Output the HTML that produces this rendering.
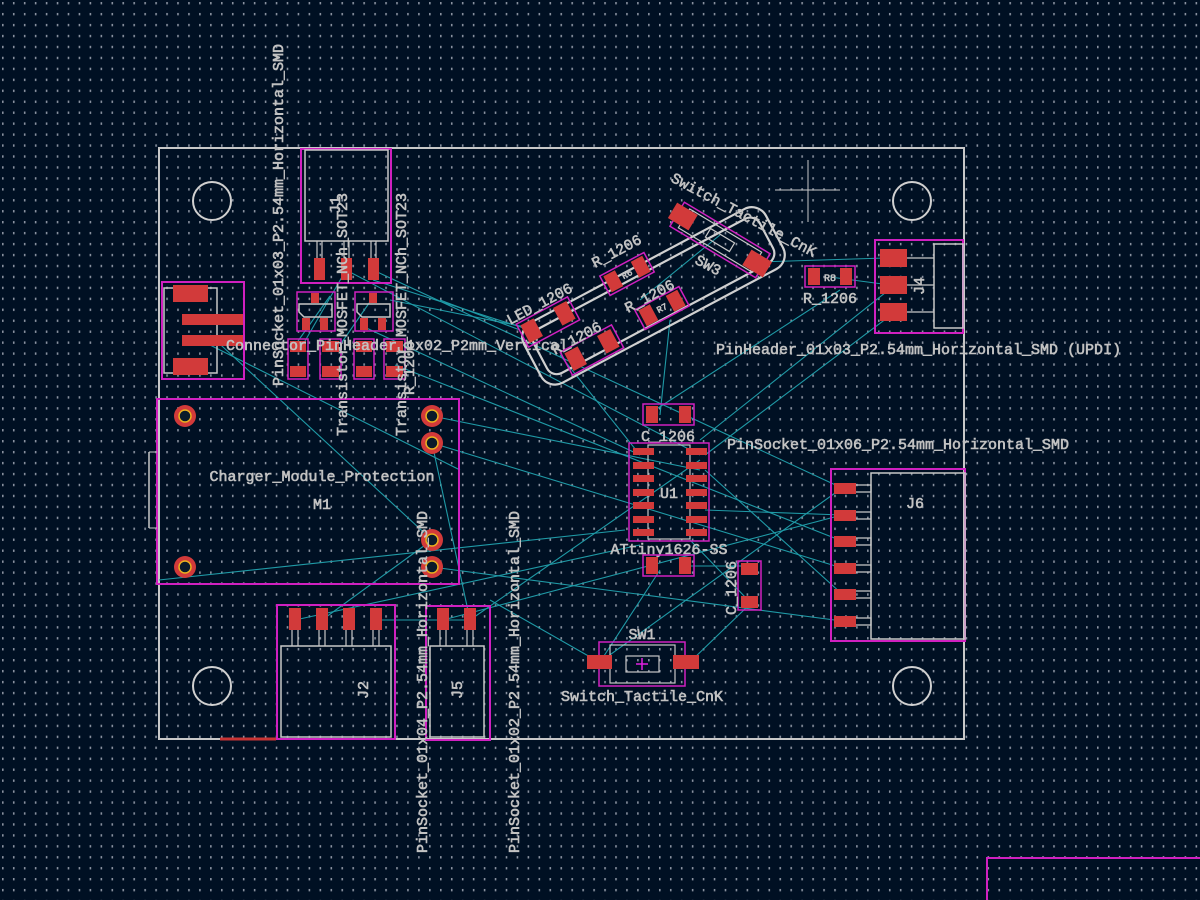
<!DOCTYPE html>
<html><head><meta charset="utf-8"><style>
html,body{margin:0;padding:0;background:#001023;}
svg{display:block}
text{font-family:"Liberation Mono","DejaVu Sans Mono",monospace;fill:#c2c2c2;stroke:#c2c2c2;stroke-width:0.6;}
</style></head><body>
<svg width="1200" height="900" viewBox="0 0 1200 900" xmlns="http://www.w3.org/2000/svg">
<defs>
<pattern id="g" x="2" y="2" width="10.95" height="10.95" patternUnits="userSpaceOnUse">
<rect x="0" y="0" width="1.6" height="2.4" fill="#8a92a0"/>
</pattern>
</defs>
<rect width="1200" height="900" fill="#001023"/>
<rect width="1200" height="900" fill="url(#g)"/>

<!-- board outline -->
<rect x="159" y="148" width="805" height="591" fill="none" stroke="#c8c8c8" stroke-width="2"/>
<line x1="220" y1="739" x2="276" y2="739" stroke="#c83434" stroke-width="3"/>
<g fill="none" stroke="#d0d0d0" stroke-width="2">
<circle cx="212" cy="201" r="19"/><circle cx="912" cy="201" r="19"/>
<circle cx="212" cy="686" r="19"/><circle cx="912" cy="686" r="19"/>
</g>
<g stroke="#c8c8c8" stroke-width="1">
<line x1="775" y1="190" x2="840" y2="190"/><line x1="808" y1="160" x2="808" y2="222"/>
</g>
<path d="M987 900 V858 H1200" fill="none" stroke="#d020c0" stroke-width="2"/>

<!-- ratsnest -->
<g stroke="#1f9aa6" stroke-width="1.1" fill="none">
<line x1="346" y1="270" x2="700" y2="455"/>
<line x1="373" y1="270" x2="842" y2="488"/>
<line x1="373" y1="280" x2="530" y2="330"/>
<line x1="210" y1="335" x2="432" y2="540"/>
<line x1="210" y1="345" x2="460" y2="470"/>
<line x1="330" y1="296" x2="298" y2="341"/>
<line x1="346" y1="270" x2="305" y2="341"/>
<line x1="374" y1="296" x2="340" y2="345"/>
<line x1="360" y1="325" x2="640" y2="455"/>
<line x1="395" y1="365" x2="842" y2="541"/>
<line x1="432" y1="416" x2="700" y2="470"/>
<line x1="432" y1="443" x2="842" y2="568"/>
<line x1="432" y1="443" x2="470" y2="620"/>
<line x1="432" y1="567" x2="842" y2="621"/>
<line x1="432" y1="540" x2="322" y2="620"/>
<line x1="295" y1="620" x2="640" y2="545"/>
<line x1="376" y1="620" x2="470" y2="620"/>
<line x1="443" y1="620" x2="842" y2="515"/>
<line x1="470" y1="620" x2="700" y2="460"/>
<line x1="159" y1="580" x2="625" y2="530"/>
<line x1="490" y1="600" x2="599" y2="662"/>
<line x1="600" y1="662" x2="660" y2="570"/>
<line x1="690" y1="662" x2="748" y2="606"/>
<line x1="660" y1="415" x2="670" y2="320"/>
<line x1="655" y1="410" x2="840" y2="290"/>
<line x1="700" y1="440" x2="895" y2="285"/>
<line x1="758" y1="262" x2="885" y2="258"/>
<line x1="830" y1="277" x2="890" y2="285"/>
<line x1="705" y1="470" x2="842" y2="594"/>
<line x1="705" y1="510" x2="842" y2="515"/>
<line x1="690" y1="540" x2="748" y2="600"/>
<line x1="705" y1="455" x2="895" y2="312"/>
<line x1="680" y1="566" x2="748" y2="566"/>
<line x1="600" y1="662" x2="842" y2="488"/>
<line x1="520" y1="330" x2="440" y2="300"/>
<line x1="640" y1="300" x2="720" y2="235"/>
<line x1="560" y1="355" x2="640" y2="455"/>
<line x1="540" y1="330" x2="390" y2="300"/>
</g>

<!-- J1 -->
<rect x="301" y="149" width="90" height="134" fill="none" stroke="#d020c0" stroke-width="2"/>
<rect x="305" y="150" width="83" height="91" fill="none" stroke="#c8c8c8" stroke-width="1.5"/>
<g stroke="#c8c8c8" stroke-width="1.2" fill="none">
<path d="M317 241v17M322 241v17M344 241v17M349 241v17M371 241v17M376 241v17"/></g>
<g fill="#d23a3a"><rect x="314" y="258" width="11" height="22"/><rect x="341" y="258" width="11" height="22"/><rect x="368" y="258" width="11" height="22"/></g>

<!-- Q1 Q2 -->
<g fill="none" stroke-width="1.5">
<rect x="297" y="292" width="38" height="39" stroke="#d020c0"/>
<rect x="355" y="292" width="38" height="39" stroke="#d020c0"/>
<path d="M299 304h33v13h-28l-5-5z" stroke="#c8c8c8"/>
<path d="M357 304h33v13h-28l-5-5z" stroke="#c8c8c8"/>
</g>
<g fill="#d23a3a">
<rect x="311" y="293" width="8" height="10"/><rect x="302" y="318" width="8" height="12"/><rect x="320" y="318" width="8" height="12"/>
<rect x="369" y="293" width="8" height="10"/><rect x="360" y="318" width="8" height="12"/><rect x="378" y="318" width="8" height="12"/>
</g>

<!-- R2-R5 -->
<g>
<rect x="288" y="339" width="20" height="40" fill="none" stroke="#d020c0" stroke-width="1.5"/>
<rect x="290" y="341" width="16" height="11" fill="#d23a3a"/><rect x="290" y="366" width="16" height="11" fill="#d23a3a"/>
<rect x="320" y="339" width="21" height="40" fill="none" stroke="#d020c0" stroke-width="1.5"/>
<rect x="322" y="341" width="17" height="11" fill="#d23a3a"/><rect x="322" y="366" width="17" height="11" fill="#d23a3a"/>
<rect x="354" y="339" width="20" height="40" fill="none" stroke="#d020c0" stroke-width="1.5"/>
<rect x="356" y="341" width="16" height="11" fill="#d23a3a"/><rect x="356" y="366" width="16" height="11" fill="#d23a3a"/>
<rect x="384" y="339" width="21" height="40" fill="none" stroke="#d020c0" stroke-width="1.5"/>
<rect x="386" y="341" width="17" height="11" fill="#d23a3a"/><rect x="386" y="366" width="17" height="11" fill="#d23a3a"/>
</g>

<!-- left connector -->
<rect x="162" y="282" width="82" height="97" fill="none" stroke="#d020c0" stroke-width="2"/>
<rect x="164" y="288" width="53" height="85" fill="none" stroke="#c8c8c8" stroke-width="1.5"/>
<g fill="#d23a3a">
<rect x="173" y="285" width="35" height="17"/><rect x="182" y="314" width="61" height="11"/>
<rect x="182" y="335" width="61" height="11"/><rect x="173" y="358" width="35" height="17"/>
</g>

<!-- M1 -->
<rect x="157" y="399" width="302" height="185" fill="none" stroke="#d020c0" stroke-width="2"/>
<line x1="149" y1="452" x2="149" y2="528" stroke="#c8c8c8" stroke-width="1.5"/>
<line x1="149" y1="452" x2="157" y2="452" stroke="#c8c8c8"/><line x1="149" y1="528" x2="157" y2="528" stroke="#c8c8c8"/>
<g>
<g transform="translate(185,416)"><circle r="11" fill="#d23a3a"/><circle r="6" fill="#0a1a2a" stroke="#e8b020" stroke-width="1.5"/></g>
<g transform="translate(432,416)"><circle r="11" fill="#d23a3a"/><circle r="6" fill="#0a1a2a" stroke="#e8b020" stroke-width="1.5"/></g>
<g transform="translate(432,443)"><circle r="11" fill="#d23a3a"/><circle r="6" fill="#0a1a2a" stroke="#e8b020" stroke-width="1.5"/></g>
<g transform="translate(185,567)"><circle r="11" fill="#d23a3a"/><circle r="6" fill="#0a1a2a" stroke="#e8b020" stroke-width="1.5"/></g>
<g transform="translate(432,540)"><circle r="11" fill="#d23a3a"/><circle r="6" fill="#0a1a2a" stroke="#e8b020" stroke-width="1.5"/></g>
<g transform="translate(432,567)"><circle r="11" fill="#d23a3a"/><circle r="6" fill="#0a1a2a" stroke="#e8b020" stroke-width="1.5"/></g>
</g>
<text x="322" y="481" font-size="15" text-anchor="middle">Charger_Module_Protection</text>
<text x="322" y="509" font-size="15" text-anchor="middle">M1</text>

<!-- J2 J5 -->
<rect x="277" y="605" width="118" height="134" fill="none" stroke="#d020c0" stroke-width="2"/>
<rect x="281" y="646" width="110" height="91" fill="none" stroke="#c8c8c8" stroke-width="1.5"/>
<rect x="426" y="606" width="64" height="134" fill="none" stroke="#d020c0" stroke-width="2"/>
<rect x="430" y="646" width="54" height="91" fill="none" stroke="#c8c8c8" stroke-width="1.5"/>
<g stroke="#c8c8c8" stroke-width="1.2"><path d="M292 630v16M298 630v16M319 630v16M325 630v16M346 630v16M352 630v16M373 630v16M379 630v16M440 630v16M446 630v16M467 630v16M473 630v16"/></g>
<g fill="#d23a3a">
<rect x="289" y="608" width="12" height="22"/><rect x="316" y="608" width="12" height="22"/><rect x="343" y="608" width="12" height="22"/><rect x="370" y="608" width="12" height="22"/>
<rect x="437" y="608" width="12" height="22"/><rect x="464" y="608" width="12" height="22"/>
</g>
<text font-size="15" transform="translate(368,690) rotate(-90)" text-anchor="middle">J2</text>
<text font-size="15" transform="translate(462,690) rotate(-90)" text-anchor="middle">J5</text>

<!-- vertical labels -->
<text font-size="15" transform="translate(427,853) rotate(-90)">PinSocket_01x04_P2.54mm_Horizontal_SMD</text>
<text font-size="15" transform="translate(519,853) rotate(-90)">PinSocket_01x02_P2.54mm_Horizontal_SMD</text>
<text font-size="15" transform="translate(283,386) rotate(-90)">PinSocket_01x03_P2.54mm_Horizontal_SMD</text>
<text font-size="15" transform="translate(347,436) rotate(-90)">Transistor_MOSFET_NCh_SOT23</text>
<text font-size="15" transform="translate(406,436) rotate(-90)">Transistor_MOSFET_NCh_SOT23</text>
<text font-size="15" transform="translate(340,205) rotate(-90)" text-anchor="middle">J1</text>
<text font-size="15" transform="translate(414,395) rotate(-90)">R_1206</text>
<text font-size="15" x="226" y="350">Connector_PinHeader_1x02_P2mm_Vertical</text>

<!-- rotated LED/R group -->
<g transform="rotate(-28 650 300)" fill="none" stroke="#d0d0d0" stroke-width="2.2">
<rect x="518" y="264" width="274" height="68" rx="16"/>
<rect x="527" y="273" width="256" height="50" rx="11"/>
</g>
<g transform="translate(627,274) rotate(-28)"><rect x="-25" y="-11" width="50" height="22" fill="none" stroke="#d020c0" stroke-width="1.5"/><rect x="-22" y="-9" width="13" height="18" fill="#d23a3a"/><rect x="9" y="-9" width="13" height="18" fill="#d23a3a"/><text font-size="9" x="0" y="3" text-anchor="middle">R6</text></g>
<g transform="translate(662,308) rotate(-28)"><rect x="-25" y="-11" width="50" height="22" fill="none" stroke="#d020c0" stroke-width="1.5"/><rect x="-22" y="-9" width="13" height="18" fill="#d23a3a"/><rect x="9" y="-9" width="13" height="18" fill="#d23a3a"/><text font-size="9" x="0" y="3" text-anchor="middle">R7</text></g>
<g transform="translate(548,322) rotate(-28)"><rect x="-29" y="-13" width="58" height="26" fill="none" stroke="#d020c0" stroke-width="1.5"/><rect x="-26" y="-10" width="15" height="20" fill="#d23a3a"/><rect x="11" y="-10" width="15" height="20" fill="#d23a3a"/></g>
<g transform="translate(592,350) rotate(-28)"><rect x="-29" y="-13" width="58" height="26" fill="none" stroke="#d020c0" stroke-width="1.5"/><rect x="-26" y="-10" width="15" height="20" fill="#d23a3a"/><rect x="11" y="-10" width="15" height="20" fill="#d23a3a"/></g>
<text font-size="15" transform="translate(595,268) rotate(-28)">R_1206</text>
<text font-size="15" transform="translate(628,313) rotate(-28)">R_1206</text>
<text font-size="15" transform="translate(510,325) rotate(-28)">LED_1206</text>
<text font-size="15" transform="translate(555,355) rotate(-28)">R_1206</text>

<!-- SW3 -->
<g transform="translate(720,240) rotate(31)">
<rect x="-50" y="-14" width="100" height="28" fill="none" stroke="#d020c0" stroke-width="1.5"/>
<rect x="-42" y="-11" width="84" height="22" fill="none" stroke="#c8c8c8" stroke-width="1.2"/>
<rect x="-14" y="-5" width="28" height="10" fill="none" stroke="#c8c8c8" stroke-width="1.2"/>
<rect x="-56" y="-10" width="24" height="18" fill="#d23a3a"/><rect x="32" y="-8" width="24" height="18" fill="#d23a3a"/>
</g>
<text font-size="15" transform="translate(670,181) rotate(28)">Switch_Tactile_CnK</text>
<text font-size="15" transform="translate(694,263) rotate(28)">SW3</text>

<!-- C1 U1 R1 C2 -->
<rect x="643" y="404" width="51" height="21" fill="none" stroke="#d020c0" stroke-width="1.5"/>
<rect x="646" y="406" width="12" height="17" fill="#d23a3a"/><rect x="679" y="406" width="12" height="17" fill="#d23a3a"/>
<text font-size="15" x="668" y="441" text-anchor="middle">C_1206</text>
<rect x="629" y="443" width="80" height="98" fill="none" stroke="#d020c0" stroke-width="1.5"/>
<rect x="648" y="445" width="42" height="94" fill="none" stroke="#c8c8c8" stroke-width="1.2"/>
<g fill="#d23a3a">
<rect x="633" y="448" width="21" height="7"/><rect x="633" y="462" width="21" height="7"/><rect x="633" y="475" width="21" height="7"/><rect x="633" y="489" width="21" height="7"/><rect x="633" y="502" width="21" height="7"/><rect x="633" y="516" width="21" height="7"/><rect x="633" y="529" width="21" height="7"/>
<rect x="686" y="448" width="21" height="7"/><rect x="686" y="462" width="21" height="7"/><rect x="686" y="475" width="21" height="7"/><rect x="686" y="489" width="21" height="7"/><rect x="686" y="502" width="21" height="7"/><rect x="686" y="516" width="21" height="7"/><rect x="686" y="529" width="21" height="7"/>
</g>
<text font-size="15" x="669" y="498" text-anchor="middle">U1</text>
<text font-size="15" x="669" y="554" text-anchor="middle">ATtiny1626-SS</text>
<rect x="643" y="555" width="51" height="21" fill="none" stroke="#d020c0" stroke-width="1.5"/>
<rect x="646" y="557" width="12" height="17" fill="#d23a3a"/><rect x="679" y="557" width="12" height="17" fill="#d23a3a"/>
<rect x="738" y="561" width="23" height="49" fill="none" stroke="#d020c0" stroke-width="1.5"/>
<rect x="741" y="563" width="17" height="12" fill="#d23a3a"/><rect x="741" y="596" width="17" height="12" fill="#d23a3a"/>
<text font-size="15" transform="translate(736,615) rotate(-90)">C_1206</text>

<!-- SW1 -->
<rect x="599" y="642" width="86" height="44" fill="none" stroke="#d020c0" stroke-width="1.5"/>
<rect x="610" y="645" width="65" height="38" fill="none" stroke="#c8c8c8" stroke-width="1.2"/>
<rect x="626" y="656" width="33" height="16" fill="none" stroke="#c8c8c8" stroke-width="1.2"/>
<rect x="587" y="655" width="25" height="14" fill="#d23a3a"/><rect x="673" y="655" width="26" height="14" fill="#d23a3a"/>
<path d="M636 664h12M642 658v12" stroke="#e020e0" stroke-width="1.5"/>
<text font-size="15" x="642" y="639" text-anchor="middle">SW1</text>
<text font-size="15" x="642" y="701" text-anchor="middle">Switch_Tactile_CnK</text>

<!-- R8 -->
<rect x="805" y="266" width="50" height="21" fill="none" stroke="#d020c0" stroke-width="1.5"/>
<rect x="808" y="268" width="12" height="17" fill="#d23a3a"/><rect x="840" y="268" width="12" height="17" fill="#d23a3a"/>
<text font-size="10" x="830" y="281" text-anchor="middle">R8</text>
<text font-size="15" x="830" y="303" text-anchor="middle">R_1206</text>

<!-- J4 -->
<rect x="875" y="240" width="88" height="93" fill="none" stroke="#d020c0" stroke-width="2"/>
<rect x="934" y="244" width="29" height="84" fill="none" stroke="#c8c8c8" stroke-width="1.5"/>
<g stroke="#c8c8c8" stroke-width="1.2"><path d="M907 258h27M907 285h27M907 312h27"/></g>
<g fill="#d23a3a"><rect x="880" y="249" width="27" height="18"/><rect x="880" y="276" width="27" height="18"/><rect x="880" y="303" width="27" height="18"/></g>
<text font-size="15" transform="translate(924,286) rotate(-90)" text-anchor="middle">J4</text>
<text font-size="15" x="716" y="354">PinHeader_01x03_P2.54mm_Horizontal_SMD (UPDI)</text>
<text font-size="15" x="727" y="449">PinSocket_01x06_P2.54mm_Horizontal_SMD</text>

<!-- J6 -->
<rect x="831" y="469" width="134" height="172" fill="none" stroke="#d020c0" stroke-width="2"/>
<rect x="871" y="473" width="94" height="166" fill="none" stroke="#c8c8c8" stroke-width="1.5"/>
<g stroke="#c8c8c8" stroke-width="1.2" fill="none">
<path d="M855 485h16v7h-16M855 512h16v7h-16M855 538h16v7h-16M855 565h16v7h-16M855 591h16v7h-16M855 618h16v7h-16"/></g>
<g fill="#d23a3a">
<rect x="834" y="483" width="22" height="11"/><rect x="834" y="510" width="22" height="11"/><rect x="834" y="536" width="22" height="11"/><rect x="834" y="563" width="22" height="11"/><rect x="834" y="589" width="22" height="11"/><rect x="834" y="616" width="22" height="11"/>
</g>
<text font-size="15" x="915" y="508" text-anchor="middle">J6</text>
</svg>
</body></html>
